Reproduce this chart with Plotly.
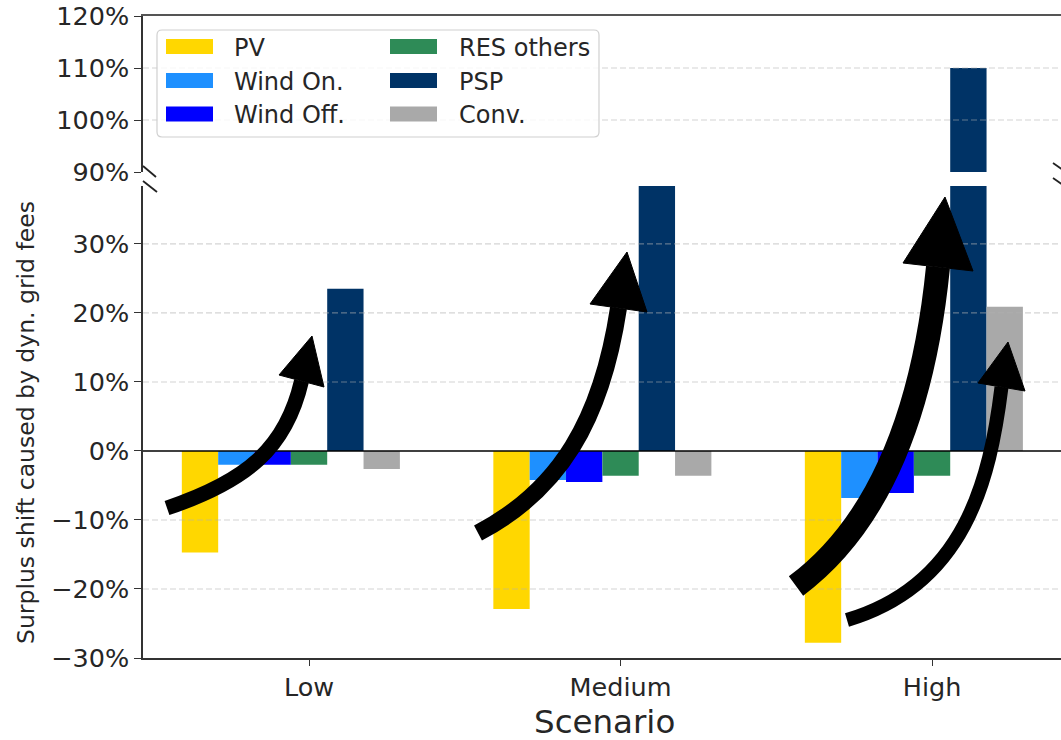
import plotly.graph_objects as go

# ---------------- data ----------------
scenarios = ["Low", "Medium", "High"]
series_names = ["PV", "Wind On.", "Wind Off.", "RES others", "PSP", "Conv."]
pv = [-14.7, -22.9, -27.8]
wind_on = [-2.0, -4.2, -6.8]
wind_off = [-2.0, -4.5, -6.1]
res_others = [-2.0, -3.6, -3.6]
psp = [23.5, 55.0, 110.0]
conv = [-2.6, -3.6, 20.9]
lower_ticks = [-30, -20, -10, 0, 10, 20, 30]
upper_ticks = [90, 100, 110, 120]

series_values = [pv, wind_on, wind_off, res_others, psp, conv]
colors = ["#FFD700", "#1E90FF", "#0000FF", "#2E8B57", "#003366", "#A9A9A9"]

# ---------------- geometry ----------------
W, H = 1061, 740
ML, MR, MT, MB = 143, 0, 16, 82
PW, PH = W - ML - MR, H - MT - MB
FONT = "DejaVu Sans"
TXT = "#262626"


def px(X):
    return (X - ML) / PW


def py(Y):
    return (H - MB - Y) / PH


lower_dom = [0, py(186)]
upper_dom = [py(172), 1]
bar_w = 0.7 / 6


def pct(v):
    return (f"{v}%").replace("-", "\u2212")


fig = go.Figure()
for i, (name, vals, col) in enumerate(zip(series_names, series_values, colors)):
    xs = [k + (i - 3) * bar_w for k in range(len(scenarios))]
    for xa, ya in (("x", "y"), ("x2", "y2")):
        fig.add_trace(go.Bar(
            x=xs, y=vals, width=bar_w, name=name, marker=dict(color=col, line=dict(width=0)),
            xaxis=xa, yaxis=ya, showlegend=False, hoverinfo="skip"))

axis_common = dict(showgrid=False, zeroline=False, ticks="outside", tickcolor="#333",
                   tickwidth=1.3, tickfont=dict(family=FONT, size=25.5, color=TXT))

fig.update_layout(
    width=W, height=H, margin=dict(l=ML, r=MR, t=MT, b=MB),
    paper_bgcolor="white", plot_bgcolor="white", barmode="overlay", showlegend=False,
    xaxis=dict(domain=[0, 1], range=[-0.533, 2.414], anchor="y", tickvals=[0, 1, 2],
               ticktext=scenarios, ticklen=6, showline=True, linecolor="#333", linewidth=1.5,
               **axis_common),
    xaxis2=dict(domain=[0, 1], matches="x", anchor="y2", side="top", showticklabels=False,
                showline=True, linecolor="#555", linewidth=2, showgrid=False, zeroline=False, ticks=""),
    yaxis=dict(domain=lower_dom, range=[-30, 38.4], anchor="x", tickvals=lower_ticks,
               ticktext=[pct(v) for v in lower_ticks], ticklen=7, showline=True,
               linecolor="#333", linewidth=1.5, **axis_common),
    yaxis2=dict(domain=upper_dom, range=[90, 120], anchor="x2", tickvals=upper_ticks,
                ticktext=[pct(v) for v in upper_ticks], ticklen=7, showline=True,
                linecolor="#333", linewidth=1.5, **axis_common),
)

shapes = []
grid_style = dict(color="rgba(176,176,176,0.55)", width=1.2, dash="6px,3px")
for v in lower_ticks:
    if v in (-30, 0):
        continue
    shapes.append(dict(type="line", xref="x domain", yref="y", x0=0, x1=1, y0=v, y1=v,
                       line=grid_style, layer="above"))
for v in upper_ticks:
    if v in (90, 120):
        continue
    shapes.append(dict(type="line", xref="x2 domain", yref="y2", x0=0, x1=1, y0=v, y1=v,
                       line=grid_style, layer="above"))
# zero line
shapes.append(dict(type="line", xref="x domain", yref="y", x0=0, x1=1, y0=0, y1=0,
                   line=dict(color="black", width=1.5), layer="above"))

# axis break marks
for (x0, y0, x1, y1) in [(143, 166, 156, 177), (143, 181, 157, 192),
                         (1053, 163, 1066, 172), (1053, 178, 1066, 187)]:
    shapes.append(dict(type="line", xref="paper", yref="paper", x0=px(x0), y0=py(y0),
                       x1=px(x1), y1=py(y1), line=dict(color="#222", width=1.8), layer="above"))

# legend box
lx0, ly0, lx1, ly1, r = 157, 30, 599, 137, 5
box = (f"M {px(lx0 + r)},{py(ly0)} L {px(lx1 - r)},{py(ly0)} Q {px(lx1)},{py(ly0)} {px(lx1)},{py(ly0 + r)} "
       f"L {px(lx1)},{py(ly1 - r)} Q {px(lx1)},{py(ly1)} {px(lx1 - r)},{py(ly1)} "
       f"L {px(lx0 + r)},{py(ly1)} Q {px(lx0)},{py(ly1)} {px(lx0)},{py(ly1 - r)} "
       f"L {px(lx0)},{py(ly0 + r)} Q {px(lx0)},{py(ly0)} {px(lx0 + r)},{py(ly0)} Z")
shapes.append(dict(type="path", xref="paper", yref="paper", path=box,
                   fillcolor="rgba(255,255,255,0.8)", line=dict(color="#d0d0d0", width=1.2),
                   layer="above"))

annotations = []
col_x = [(166, 213, 232), (390, 437, 457)]
row_y = [46.5, 80.5, 114]
for i, (name, col) in enumerate(zip(series_names, colors)):
    c, rw = divmod(i, 3)
    x0, x1, tx = col_x[c]
    yc = row_y[rw]
    shapes.append(dict(type="rect", xref="paper", yref="paper", x0=px(x0), x1=px(x1),
                       y0=py(yc + 7.5), y1=py(yc - 7.5), fillcolor=col, line=dict(width=0),
                       layer="above"))
    annotations.append(dict(xref="paper", yref="paper", x=px(tx), y=py(yc + 1), text=name,
                            showarrow=False, xanchor="left", yanchor="middle",
                            font=dict(family=FONT, size=24, color=TXT)))

# hand-drawn style arrows (annotations overlay)
arrows = [
    # tail, ctrl1, ctrl2, shaft end, width, tip, base-left, base-right
    ((167, 508), (247, 481), (286, 448), (301.5, 381), 15, (312, 336), (279, 375), (324, 387)),
    ((478, 533), (560, 490), (601.5, 420), (618.5, 308), 17, (627, 252), (590, 304), (647, 312)),
    ((796, 586), (882, 522), (924, 407), (938, 267), 24, (945, 197), (903, 263), (973, 271)),
    ((847, 620), (965, 585), (990, 480), (1001.5, 387), 14, (1008, 342), (978, 383), (1025, 391)),
]
for p0, p1, p2, p3, lw, tip, bl, br in arrows:
    path = (f"M {px(p0[0])},{py(p0[1])} C {px(p1[0])},{py(p1[1])} {px(p2[0])},{py(p2[1])} "
            f"{px(p3[0])},{py(p3[1])}")
    shapes.append(dict(type="path", xref="paper", yref="paper", path=path,
                       fillcolor="rgba(0,0,0,0)", line=dict(color="black", width=lw), layer="above"))
    head = (f"M {px(tip[0])},{py(tip[1])} L {px(bl[0])},{py(bl[1])} "
            f"L {px(br[0])},{py(br[1])} Z")
    shapes.append(dict(type="path", xref="paper", yref="paper", path=head,
                       fillcolor="black", line=dict(color="black", width=1), layer="above"))

annotations.append(dict(xref="paper", yref="paper", x=px(26), y=py(423),
                        text="Surplus shift caused by dyn. grid fees", textangle=-90,
                        showarrow=False, xanchor="center", yanchor="middle",
                        font=dict(family=FONT, size=23.5, color=TXT)))
annotations.append(dict(xref="paper", yref="paper", x=px(604), y=py(722), text="Scenario",
                        showarrow=False, xanchor="center", yanchor="middle",
                        font=dict(family=FONT, size=32.5, color=TXT)))

fig.update_layout(shapes=shapes, annotations=annotations)
fig.write_html("out.html")
